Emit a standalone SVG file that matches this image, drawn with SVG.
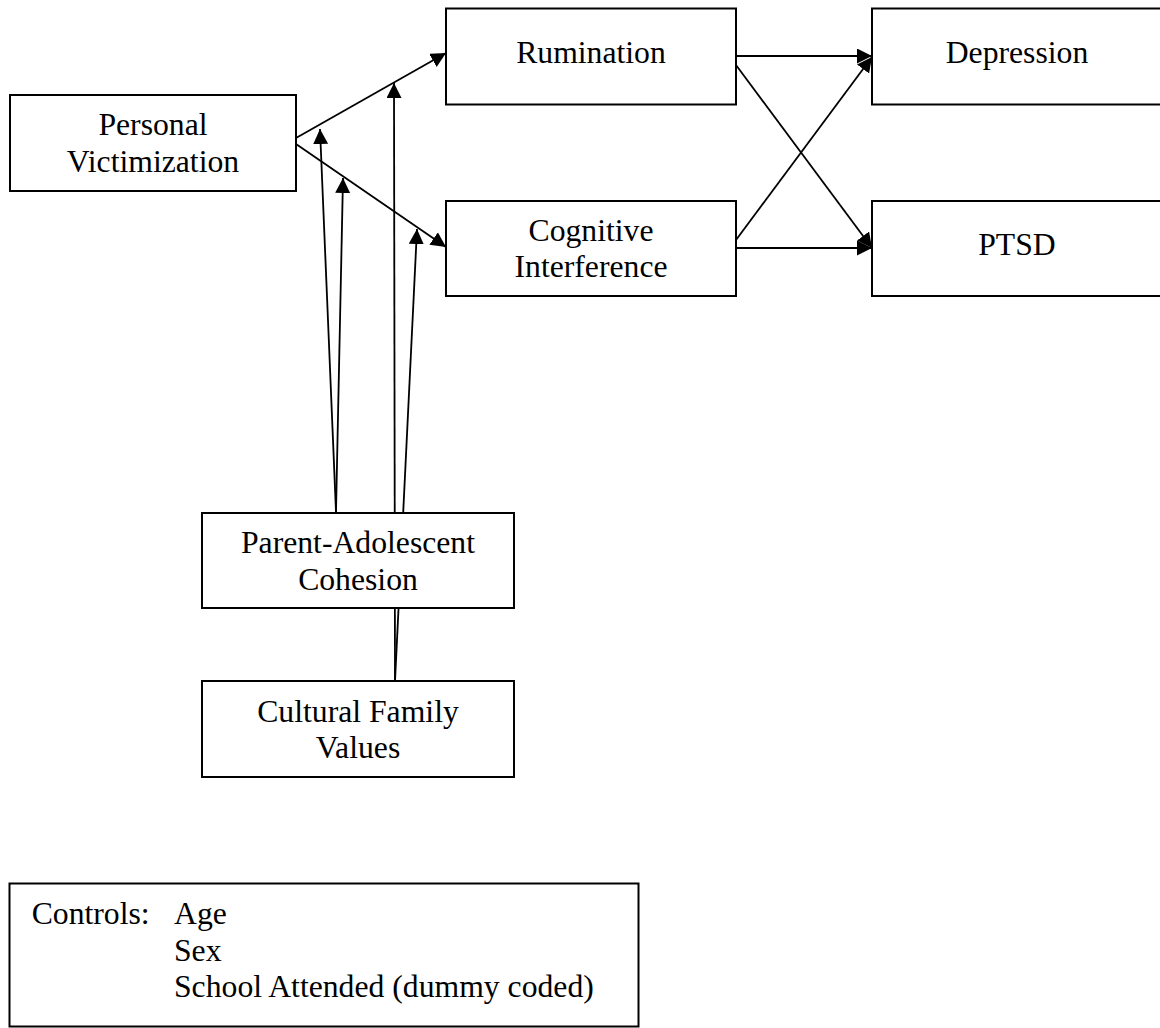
<svg xmlns="http://www.w3.org/2000/svg" width="1160" height="1028" viewBox="0 0 1160 1028">
<style>
.box{fill:#fff;stroke:#000;stroke-width:2}
.t{font-family:"Liberation Serif","Times New Roman",serif;font-size:31.7px;fill:#000}
.c{text-anchor:middle}
.ln{stroke:#000;stroke-width:1.8;fill:none;marker-end:url(#ah)}
</style>
<defs>
<marker id="ah" markerUnits="userSpaceOnUse" markerWidth="16" markerHeight="16" refX="15" refY="7.5" orient="auto">
<path d="M0,0 L15,7.5 L0,15 z" fill="#000"/>
</marker>
</defs>
<rect width="1160" height="1028" fill="#fff"/>
<g id="connectors">
<line class="ln" x1="296" y1="138" x2="446" y2="53"/>
<line class="ln" x1="296" y1="144" x2="446" y2="247"/>
<line class="ln" x1="736" y1="56" x2="872" y2="56"/>
<line class="ln" x1="736" y1="65" x2="872" y2="248"/>
<line class="ln" x1="736" y1="240" x2="872" y2="57"/>
<line class="ln" x1="736" y1="248" x2="872" y2="248"/>
<line class="ln" x1="336" y1="512" x2="320" y2="129"/>
<line class="ln" x1="336" y1="512" x2="343" y2="178"/>
<line class="ln" x1="395" y1="681" x2="394" y2="83"/>
<line class="ln" x1="395" y1="681" x2="417" y2="229"/>
</g>
<g id="personal-victimization">
<rect class="box" x="10" y="95" width="286" height="96"/>
<text class="t c" x="153" y="135">Personal</text>
<text class="t c" x="153" y="171.7">Victimization</text>
</g>
<g id="rumination">
<rect class="box" x="446" y="8.5" width="290" height="96"/>
<text class="t c" x="591" y="63.3">Rumination</text>
</g>
<g id="cognitive-interference">
<rect class="box" x="446" y="201" width="290" height="95"/>
<text class="t c" x="591" y="240.7">Cognitive</text>
<text class="t c" x="591" y="277.3">Interference</text>
</g>
<g id="depression">
<rect class="box" x="872" y="8.5" width="295" height="96"/>
<text class="t c" x="1017" y="63.3">Depression</text>
</g>
<g id="ptsd">
<rect class="box" x="872" y="201" width="295" height="95"/>
<text class="t c" x="1017" y="255">PTSD</text>
</g>
<g id="parent-adolescent-cohesion">
<rect class="box" x="202" y="513" width="312" height="95"/>
<text class="t c" x="358" y="553.3">Parent-Adolescent</text>
<text class="t c" x="358" y="590">Cohesion</text>
</g>
<g id="cultural-family-values">
<rect class="box" x="202" y="681" width="312" height="96"/>
<text class="t c" x="358" y="721.7">Cultural Family</text>
<text class="t c" x="358" y="758.3">Values</text>
</g>
<g id="controls">
<rect class="box" x="9.5" y="883.5" width="629" height="143"/>
<text class="t" x="31.7" y="924">Controls:</text>
<text class="t" x="174" y="924">Age</text>
<text class="t" x="174" y="960.7">Sex</text>
<text class="t" x="174" y="997.3">School Attended (dummy coded)</text>
</g>
</svg>
